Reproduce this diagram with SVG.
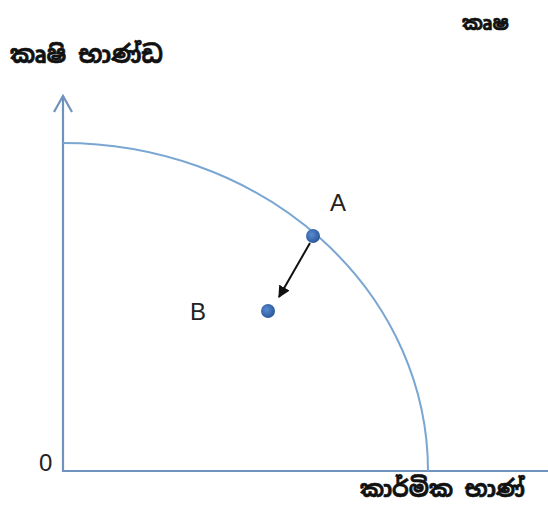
<svg xmlns="http://www.w3.org/2000/svg" width="548" height="506" viewBox="0 0 548 506">
<style>
.si{font-family:"Noto Sans Sinhala","Iskoola Pota","Noto Sans","DejaVu Sans",sans-serif;font-weight:bold;fill:#111;stroke:#111;stroke-width:0.6}
.lbl{font-family:"Liberation Sans",Arial,sans-serif;fill:#222}
.ax{stroke:#6f93bd;stroke-width:2.2;fill:none}
</style>
<defs>
<radialGradient id="dot" cx="40%" cy="40%" r="60%">
<stop offset="0" stop-color="#5a8ad0"/>
<stop offset="1" stop-color="#2b5a9c"/>
</radialGradient>
<marker id="ah" viewBox="0 0 10 10" refX="9" refY="5" markerWidth="6" markerHeight="6" orient="auto" markerUnits="strokeWidth">
<path d="M0,0 L10,5 L0,10 Z" fill="#111"/>
</marker>
</defs>
<rect width="548" height="506" fill="#fff"/>
<text class="si" x="10" y="63" font-size="24">කෘෂි භාණ්ඩ</text>
<text class="si" x="462" y="30" font-size="20">කෘෂ</text>
<text class="si" x="360" y="497" font-size="23">කාර්මික භාණ්</text>
<g id="axes">
<path class="ax" d="M63,96 L63,471 L548,471"/>
<path class="ax" d="M54,112 L63,96 L72,112"/>
</g>
<g id="curve">
<path d="M63,143 A365,328 0 0 1 428,471" stroke="#7aa6d2" stroke-width="2" fill="none"/>
</g>
<g id="connectors">
<line x1="310" y1="243" x2="279" y2="297" stroke="#111" stroke-width="2" marker-end="url(#ah)"/>
</g>
<g id="A">
<circle cx="313" cy="236" r="7" fill="url(#dot)"/>
<text class="lbl" x="330" y="211" font-size="24">A</text>
</g>
<g id="B">
<circle cx="268" cy="311" r="7" fill="url(#dot)"/>
<text class="lbl" x="190" y="320" font-size="24">B</text>
</g>
<text class="lbl" x="39" y="471" font-size="24">0</text>
</svg>
